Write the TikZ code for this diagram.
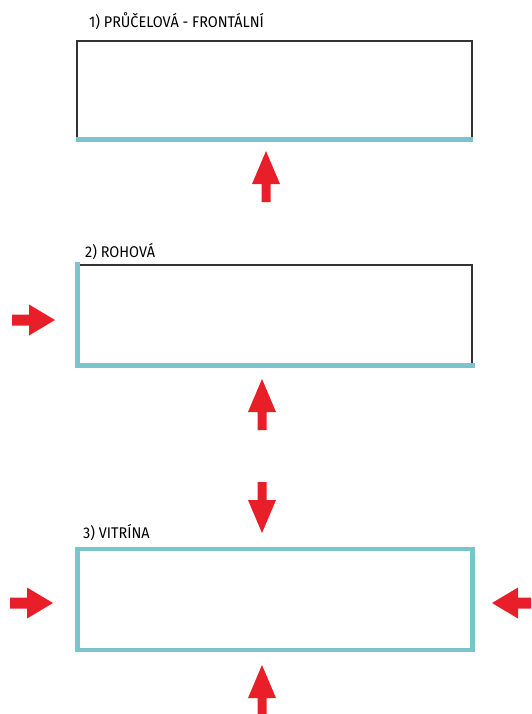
\documentclass[tikz,border=0pt]{standalone}
\usepackage{fontspec}
\setmainfont{Fira Sans}[FakeStretch=0.93]
\definecolor{glasscyan}{RGB}{122,196,204}
\definecolor{arrowred}{RGB}{232,30,40}
\begin{document}
\begin{tikzpicture}[x=1pt,y=-1pt,
  frame/.style={draw=black!80, line width=1.3pt, inner sep=0pt},
  glass/.style={draw=glasscyan, line width=4.5pt},
  boxlabel/.style={anchor=base west, inner sep=0pt, font=\fontsize{15.5}{17}\selectfont},
  vertarrow/.pic={\fill[arrowred] (0,-4.5) -- (18,-4.5) -- (18,-14) -- (51,0) -- (18,14) -- (18,4.5) -- (0,4.5) -- cycle;},
  horarrow/.pic={\fill[arrowred] (0,-5.5) -- (17,-5.5) -- (17,-15.5) -- (43,0) -- (17,15.5) -- (17,5.5) -- (0,5.5) -- cycle;}
]
\useasboundingbox (0,0) rectangle (531,714);
\clip (0,0) rectangle (531,714);
% box 1
\node[boxlabel] (l1) at (89,28) {1) PRŮČELOVÁ - FRONTÁLNÍ};
\node[frame, minimum width=395pt, minimum height=98pt] (b1) at (274.5,90) {};
\draw[glass] (b1.south west) -- (b1.south east);
\pic[rotate=90] at (266,202) {vertarrow};
% box 2
\node[boxlabel] (l2) at (85,257) {2) ROHOVÁ};
\node[frame, minimum width=394pt, minimum height=100pt] (b2) at (275,315) {};
\draw[glass, line cap=rect] (b2.north west) -- (b2.south west) -- (b2.south east);
\pic at (12,320) {horarrow};
\pic[rotate=90] at (262,430) {vertarrow};
% box 3
\node[boxlabel] (l3) at (83,538) {3) VITRÍNA};
\node[glass, inner sep=0pt, minimum width=395pt, minimum height=101pt] (b3) at (275,599.5) {};
\pic[rotate=-90] at (262,482) {vertarrow};
\pic at (10,603) {horarrow};
\pic[rotate=180] at (535,603) {horarrow};
\pic[rotate=90] at (262,716) {vertarrow};
\end{tikzpicture}
\end{document}
